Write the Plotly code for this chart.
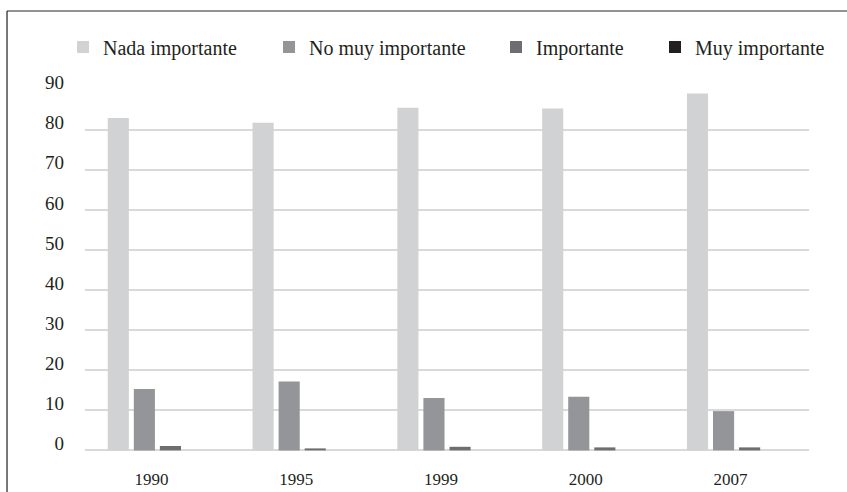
import plotly.graph_objects as go

years = ["1990", "1995", "1999", "2000", "2007"]
series_names = ["Nada importante", "No muy importante", "Importante", "Muy importante"]
nada = [82.9, 81.7, 85.5, 85.3, 89.0]
no_muy = [15.3, 17.2, 13.1, 13.4, 9.8]
importante = [1.1, 0.5, 0.9, 0.75, 0.75]
muy = [0.0, 0.0, 0.0, 0.0, 0.0]
y_ticks = [0, 10, 20, 30, 40, 50, 60, 70, 80, 90]

colors = ["#d1d2d4", "#939598", "#6d6e71", "#231f20"]
values = [nada, no_muy, importante, muy]
legend_ids = ["legend", "legend2", "legend3", "legend4"]
legend_x_px = [63, 269, 496, 655]

font = "Liberation Serif, Times New Roman, serif"

fig = go.Figure()
for name, vals, c, lid in zip(series_names, values, colors, legend_ids):
    fig.add_trace(go.Bar(
        x=years, y=vals, name=name, legend=lid,
        marker=dict(color=c, line=dict(width=0)),
    ))

legend_layout = {}
for lid, px in zip(legend_ids, legend_x_px):
    legend_layout[lid] = dict(
        orientation="h", xref="container", yref="container",
        x=px / 847, xanchor="left", y=1 - 47 / 492, yanchor="middle",
        font=dict(family=font, size=20, color="#231f20"),
        itemwidth=30, itemclick=False, bgcolor="rgba(0,0,0,0)",
    )

fig.update_layout(
    width=847, height=492,
    margin=dict(l=85, r=38, t=89, b=41, autoexpand=False),
    paper_bgcolor="white", plot_bgcolor="white",
    barmode="group", bargap=0.28, bargroupgap=0.19,
    font=dict(family=font, size=17, color="#231f20"),
    showlegend=True,
    xaxis=dict(showgrid=False, showline=False, zeroline=False, ticks="", automargin=False,
               ticklabelstandoff=16, ticklabelshift=-6,
               tickfont=dict(family=font, size=17, color="#231f20")),
    yaxis=dict(range=[-0.15, 90.15], tickvals=y_ticks, showgrid=True, gridcolor="#d9d9d9",
               gridwidth=2, zeroline=True, zerolinecolor="#d9d9d9", zerolinewidth=2,
               showline=False, ticks="", automargin=False,
               ticklabelstandoff=20, ticklabelshift=-7,
               tickfont=dict(family=font, size=19, color="#231f20")),
    shapes=[
        dict(type="line", xref="paper", yref="paper", x0=-0.1077, x1=1.06, y0=1.2155, y1=1.2155,
             line=dict(color="#6d6e71", width=1.5)),
        dict(type="line", xref="paper", yref="paper", x0=-0.1077, x1=-0.1077, y0=1.2155, y1=-0.12,
             line=dict(color="#231f20", width=1.2)),
    ],
    **legend_layout,
)

fig.write_html("out.html", config={"displayModeBar": False},
               post_script="document.body.style.margin='0';")
